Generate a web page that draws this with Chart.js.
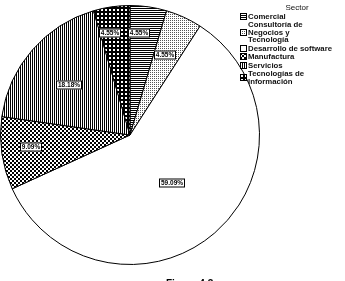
<!DOCTYPE html>
<html>
<head>
<meta charset="utf-8">
<script src="https://cdn.jsdelivr.net/npm/chart.js@4/dist/chart.umd.min.js"></script>
<style>
  html, body { margin: 0; padding: 0; background: #fff; }
  #wrap { position: relative; width: 345px; height: 281px; overflow: hidden; }
  #pie { position: absolute; left: 0; top: 0; }
  #legend {
    position: absolute; left: 240px; top: 4px; width: 105px;
    font: bold 7.8px "Liberation Sans", Arial, sans-serif; color: #111; line-height: 7.5px;
    white-space: nowrap;
  }
  #legend .title { text-align: center; margin-left: 22px; width: 70px; margin-bottom: 1px; font-weight: normal; font-size: 8px; }
  #legend .item { display: flex; align-items: center; margin-bottom: 1px; }
  #legend canvas { width: 7px; height: 7px; margin-right: 1px; flex: none; }
  #caption {
    position: absolute; left: 166px; top: 278px;
    font: bold 10px "Liberation Sans", Arial, sans-serif; color: #000;
  }
</style>
</head>
<body>
<div id="wrap">
  <canvas id="pie" width="345" height="281"></canvas>
  <div id="legend"><div class="title">Sector</div></div>
  <div id="caption">Figura 4.3</div>
</div>
<script>
const sectors = [
  'Comercial',
  'Consultoría de Negocios y Tecnología',
  'Desarrollo de software',
  'Manufactura',
  'Servicios',
  'Tecnologías de Información',
];
const legendLines = [
  ['Comercial'],
  ['Consultoría de', 'Negocios y', 'Tecnología'],
  ['Desarrollo de software'],
  ['Manufactura'],
  ['Servicios'],
  ['Tecnologías de', 'Información'],
];
const shares = [4.55, 4.55, 59.09, 9.09, 18.18, 4.55];

// where each percentage box sits: fraction of radius, and a small turn (degrees)
const labelDepth = [0.79, 0.67, 0.49, 0.77, 0.61, 0.80];
const labelTurn = [-3, -1, 0, 1, -2, -3];

// little bitmap tiles that stand in for the printed hatchings
function makePattern(size, paint) {
  const c = document.createElement('canvas');
  c.width = size;
  c.height = size;
  const ctx = c.getContext('2d');
  ctx.fillStyle = '#fff';
  ctx.fillRect(0, 0, size, size);
  ctx.fillStyle = '#000';
  paint(ctx);
  return c;
}

const tiles = [
  // horizontal stripes
  makePattern(2, (ctx) => ctx.fillRect(0, 0, 2, 1)),
  // light stipple
  makePattern(2, (ctx) => { ctx.fillStyle = '#555'; ctx.fillRect(0, 0, 1, 1); }),
  // plain white
  makePattern(2, () => {}),
  // checkerboard
  makePattern(4, (ctx) => { ctx.fillRect(0, 0, 2, 2); ctx.fillRect(2, 2, 2, 2); }),
  // vertical stripes
  makePattern(2, (ctx) => ctx.fillRect(0, 0, 1, 2)),
  // black with white dots
  makePattern(4, (ctx) => {
    ctx.fillRect(0, 0, 4, 4);
    ctx.fillStyle = '#fff';
    ctx.fillRect(1, 1, 2, 2);
  }),
];

const pieCtx = document.getElementById('pie').getContext('2d');
const fills = tiles.map((t) => pieCtx.createPattern(t, 'repeat'));

const percentBoxes = {
  id: 'percentBoxes',
  afterDatasetsDraw(chart) {
    const { ctx } = chart;
    const meta = chart.getDatasetMeta(0);
    ctx.save();
    ctx.font = 'bold 6.5px "Liberation Sans", Arial, sans-serif';
    ctx.textAlign = 'center';
    ctx.textBaseline = 'middle';
    meta.data.forEach((arc, i) => {
      const {
        x, y, startAngle, endAngle, outerRadius,
      } = arc.getProps(['x', 'y', 'startAngle', 'endAngle', 'outerRadius'], true);
      const mid = (startAngle + endAngle) / 2 + (labelTurn[i] * Math.PI) / 180;
      const r = outerRadius * labelDepth[i];
      const cx = Math.round(x + Math.cos(mid) * r);
      const cy = Math.round(y + Math.sin(mid) * r);
      const text = `${shares[i].toFixed(2)}%`;
      const w = Math.ceil(ctx.measureText(text).width) + 3;
      const h = 9;
      ctx.fillStyle = '#fff';
      ctx.fillRect(cx - w / 2, cy - h / 2, w, h);
      ctx.strokeStyle = '#000';
      ctx.lineWidth = 1;
      ctx.strokeRect(cx - w / 2 + 0.5, cy - h / 2 + 0.5, w - 1, h - 1);
      ctx.fillStyle = '#000';
      ctx.fillText(text, cx, cy + 0.5);
    });
    ctx.restore();
  },
};

// eslint-disable-next-line no-undef
new Chart(pieCtx, {
  type: 'pie',
  data: {
    labels: sectors,
    datasets: [{
      data: shares,
      backgroundColor: fills,
      borderColor: '#000',
      borderWidth: 1,
    }],
  },
  options: {
    responsive: false,
    animation: false,
    layout: {
      padding: {
        left: 0, top: 5, right: 85, bottom: 16,
      },
    },
    plugins: {
      legend: { display: false },
      tooltip: { enabled: false },
    },
  },
  plugins: [percentBoxes],
});

// legend on the side, same tiles as the slices
const legend = document.getElementById('legend');
legendLines.forEach((lines, i) => {
  const item = document.createElement('div');
  item.className = 'item';
  const sw = document.createElement('canvas');
  sw.width = 7;
  sw.height = 7;
  const sctx = sw.getContext('2d');
  sctx.fillStyle = sctx.createPattern(tiles[i], 'repeat');
  sctx.fillRect(0, 0, 7, 7);
  sctx.strokeStyle = '#000';
  sctx.strokeRect(0.5, 0.5, 6, 6);
  const label = document.createElement('div');
  label.innerHTML = lines.join('<br>');
  item.appendChild(sw);
  item.appendChild(label);
  legend.appendChild(item);
});
</script>
</body>
</html>
